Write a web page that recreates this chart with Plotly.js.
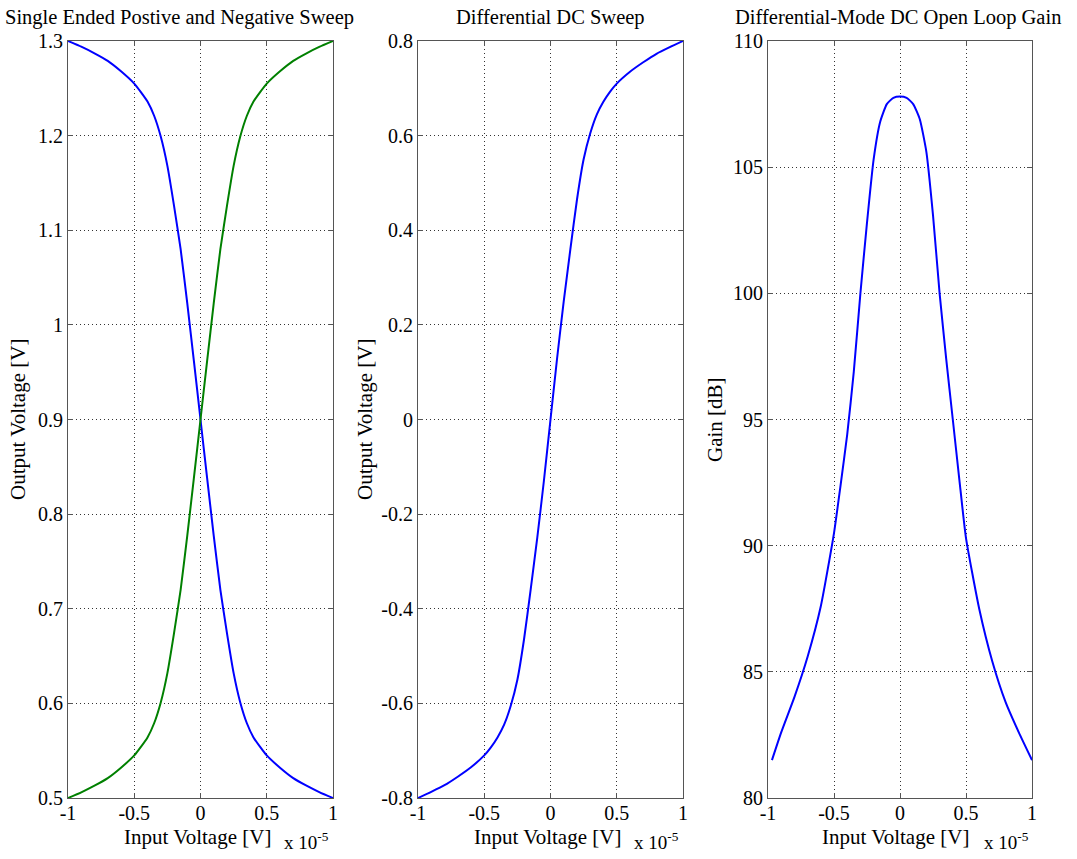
<!DOCTYPE html>
<html>
<head>
<meta charset="utf-8">
<script src="https://cdn.plot.ly/plotly-3.0.1.min.js"></script>
<style>html,body{margin:0;padding:0;background:#fff;}#chart{width:1077px;height:859px;}</style>
</head>
<body>
<div id="chart"></div>
<script>
// ---- data (input voltage in units of 1e-5 V) ----
const xSweep = [-1,-0.9,-0.8,-0.7,-0.6,-0.5,-0.45,-0.4,-0.35,-0.3,-0.25,-0.2,-0.15,-0.1,-0.05,0,0.05,0.1,0.15,0.2,0.25,0.3,0.35,0.4,0.45,0.5,0.6,0.7,0.8,0.9,1];
const negSweep = [1.300,1.294,1.287,1.279,1.268,1.255,1.246,1.236,1.221,1.199,1.168,1.126,1.080,1.023,0.962,0.900,0.838,0.777,0.720,0.674,0.632,0.601,0.579,0.564,0.554,0.545,0.532,0.521,0.513,0.506,0.500];
const posSweep = [0.500,0.506,0.513,0.521,0.532,0.545,0.554,0.564,0.579,0.601,0.632,0.674,0.720,0.777,0.838,0.900,0.962,1.023,1.080,1.126,1.168,1.199,1.221,1.236,1.246,1.255,1.268,1.279,1.287,1.294,1.300];
const diffSweep = [-0.800,-0.787,-0.773,-0.755,-0.735,-0.710,-0.693,-0.672,-0.645,-0.605,-0.550,-0.465,-0.360,-0.250,-0.130,0,0.130,0.250,0.360,0.465,0.550,0.605,0.645,0.672,0.693,0.710,0.735,0.755,0.773,0.787,0.800];
const xGain = [-0.97,-0.9,-0.8,-0.7,-0.6,-0.5,-0.45,-0.4,-0.35,-0.3,-0.25,-0.2,-0.15,-0.1,-0.05,0,0.05,0.1,0.15,0.2,0.25,0.3,0.35,0.4,0.45,0.5,0.6,0.7,0.8,0.9,1];
const gainDb = [81.5,82.6,84.0,85.6,87.6,90.5,92.4,94.4,96.9,100.0,102.8,105.3,106.8,107.5,107.75,107.8,107.75,107.5,106.9,105.6,103.1,100.0,97.4,95.0,92.6,90.3,87.5,85.4,83.8,82.6,81.5];

const xTicks = [-1,-0.5,0,0.5,1];
const xTickText = ['-1','-0.5','0','0.5','1'];
const y1Ticks = [0.5,0.6,0.7,0.8,0.9,1,1.1,1.2,1.3];
const y1TickText = ['0.5','0.6','0.7','0.8','0.9','1','1.1','1.2','1.3'];
const y2Ticks = [-0.8,-0.6,-0.4,-0.2,0,0.2,0.4,0.6,0.8];
const y2TickText = ['-0.8','-0.6','-0.4','-0.2','0','0.2','0.4','0.6','0.8'];
const y3Ticks = [80,85,90,95,100,105,110];
const y3TickText = ['80','85','90','95','100','105','110'];

const titles = ['Single Ended Postive and Negative Sweep','Differential DC Sweep','Differential-Mode DC Open Loop Gain'];
const yTitles = ['Output Voltage [V]','Output Voltage [V]','Gain [dB]'];
const xTitle = 'Input Voltage [V]';

// ---- layout helpers ----
const W = 1077, H = 859;
const px = v => v / W;
const py = v => 1 - v / H;
const FONT = '"Liberation Serif", "Times New Roman", serif';
const BLUE = '#0000ff', GREEN = '#008000';

const lineStyle = c => ({color: c, width: 2, shape: 'spline', smoothing: 0.5});

const traces = [
  {x: xSweep, y: negSweep, mode: 'lines', line: lineStyle(BLUE), xaxis: 'x', yaxis: 'y', hoverinfo: 'skip'},
  {x: xSweep, y: posSweep, mode: 'lines', line: lineStyle(GREEN), xaxis: 'x', yaxis: 'y', hoverinfo: 'skip'},
  {x: xSweep, y: diffSweep, mode: 'lines', line: lineStyle(BLUE), xaxis: 'x2', yaxis: 'y2', hoverinfo: 'skip'},
  {x: xGain, y: gainDb, mode: 'lines', line: lineStyle(BLUE), xaxis: 'x3', yaxis: 'y3', hoverinfo: 'skip'}
];

const axBase = {
  showline: true, mirror: 'ticks', linecolor: '#555', linewidth: 1,
  ticks: 'inside', ticklen: 5, tickcolor: '#555',
  showgrid: true, gridcolor: '#333', griddash: '1px,3px', gridwidth: 1,
  zeroline: false, tickfont: {family: FONT, size: 20, color: '#000'},
  tickmode: 'array'
};
const yDom = [1 - 798 / H, 1 - 41 / H];
const boxes = [[68, 333], [418, 683], [768, 1032]];

const layout = {
  width: W, height: H,
  margin: {l: 0, r: 0, t: 0, b: 0, pad: 0},
  paper_bgcolor: '#fff', plot_bgcolor: '#fff',
  showlegend: false,
  font: {family: FONT, color: '#000'},
  xaxis: Object.assign({}, axBase, {domain: [px(boxes[0][0]), px(boxes[0][1])], range: [-1, 1], tickvals: xTicks, ticktext: xTickText, anchor: 'y', ticklabelstandoff: -3}),
  yaxis: Object.assign({}, axBase, {domain: yDom, range: [0.5, 1.3], tickvals: y1Ticks, ticktext: y1TickText, anchor: 'x'}),
  xaxis2: Object.assign({}, axBase, {domain: [px(boxes[1][0]), px(boxes[1][1])], range: [-1, 1], tickvals: xTicks, ticktext: xTickText, anchor: 'y2', ticklabelstandoff: -3}),
  yaxis2: Object.assign({}, axBase, {domain: yDom, range: [-0.8, 0.8], tickvals: y2Ticks, ticktext: y2TickText, anchor: 'x2'}),
  xaxis3: Object.assign({}, axBase, {domain: [px(boxes[2][0]), px(boxes[2][1])], range: [-1, 1], tickvals: xTicks, ticktext: xTickText, anchor: 'y3', ticklabelstandoff: -3}),
  yaxis3: Object.assign({}, axBase, {domain: yDom, range: [80, 110], tickvals: y3Ticks, ticktext: y3TickText, anchor: 'x3'}),
  annotations: []
};

const titleX = [179, 550, 898];
const xLabX = [197, 547, 895];
const expX = [306, 656, 1006];
const yLabX = [18, 365, 715];
for (let i = 0; i < 3; i++) {
  layout.annotations.push({text: titles[i], xref: 'paper', yref: 'paper', x: px(titleX[i]), y: py(18), xanchor: 'center', yanchor: 'middle', showarrow: false, font: {family: FONT, size: 20.5, color: '#000'}});
  layout.annotations.push({text: xTitle, xref: 'paper', yref: 'paper', x: px(xLabX[i]), y: py(837), xanchor: 'center', yanchor: 'middle', showarrow: false, font: {family: FONT, size: 21, color: '#000'}});
  layout.annotations.push({text: 'x 10<sup>-5</sup>', xref: 'paper', yref: 'paper', x: px(expX[i]), y: py(841), xanchor: 'center', yanchor: 'middle', showarrow: false, font: {family: FONT, size: 19, color: '#000'}});
  layout.annotations.push({text: yTitles[i], xref: 'paper', yref: 'paper', x: px(yLabX[i]), y: py(420), xanchor: 'center', yanchor: 'middle', textangle: -90, showarrow: false, font: {family: FONT, size: 21, color: '#000'}});
}

Plotly.newPlot('chart', traces, layout, {staticPlot: true, displayModeBar: false});
</script>
</body>
</html>
